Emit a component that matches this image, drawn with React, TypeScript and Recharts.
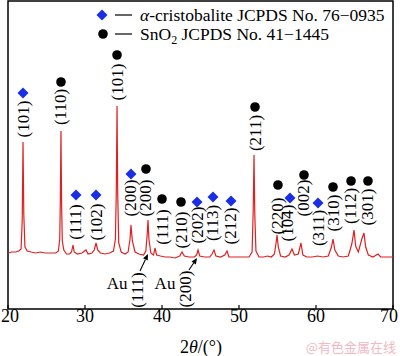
import React from 'react';
import { ComposedChart, Line, XAxis, YAxis, ReferenceArea, ReferenceDot, ReferenceLine } from 'recharts';

// XRD pattern: [2θ (°), intensity (a.u.)]
const xrdPattern: [number, number][] = [
  [20.0, 56], [20.5, 57], [21.0, 57], [21.4, 58], [21.7, 60], [21.85, 90], [21.95, 167], [22.05, 95], [22.2, 62],
  [22.5, 58], [23.0, 57], [23.6, 56], [24.2, 57], [24.8, 56], [25.5, 56], [26.2, 56], [26.55, 58], [26.72, 70],
  [26.8, 110], [26.88, 178], [26.96, 105], [27.05, 68], [27.25, 59], [27.6, 55], [28.0, 55], [28.25, 57], [28.44, 64],
  [28.6, 57], [29.0, 55], [29.6, 56], [30.13, 59], [30.4, 55], [30.9, 56], [31.2, 59], [31.43, 66], [31.65, 59],
  [32.0, 56], [32.6, 55], [33.2, 56], [33.7, 58], [33.95, 70], [34.07, 120], [34.16, 203], [34.25, 115], [34.38, 66],
  [34.7, 57], [35.2, 55], [35.6, 57], [35.85, 70], [35.97, 84], [36.15, 68], [36.5, 57], [37.0, 55], [37.6, 54],
  [37.9, 58], [38.08, 75], [38.18, 89], [38.3, 70], [38.55, 56], [38.9, 54], [39.09, 61], [39.3, 54], [39.8, 53],
  [40.4, 52], [41.0, 52], [41.7, 51], [42.3, 53], [42.6, 57], [42.9, 53], [43.5, 52], [44.2, 52], [44.5, 54],
  [44.68, 59], [44.9, 53], [45.5, 52], [46.2, 52], [46.5, 55], [46.75, 59], [47.0, 53], [47.6, 52], [48.15, 54],
  [48.44, 58], [48.7, 52], [49.3, 52], [50.0, 52], [50.7, 52], [51.3, 52], [51.7, 57], [51.85, 100], [51.95, 154],
  [52.05, 95], [52.2, 58], [52.6, 52], [53.2, 52], [53.7, 53], [54.2, 52], [54.6, 55], [54.85, 68], [54.94, 74],
  [55.1, 62], [55.4, 53], [56.0, 52], [56.5, 54], [56.88, 60], [57.2, 54], [57.7, 55], [58.05, 66], [58.3, 54],
  [58.8, 52], [59.5, 52], [60.2, 53], [60.9, 52], [61.6, 53], [62.0, 62], [62.21, 70], [62.45, 59], [62.9, 53],
  [63.5, 52], [64.2, 53], [64.65, 65], [64.94, 79], [65.15, 63], [65.5, 57], [65.95, 70], [66.23, 76], [66.45, 62],
  [66.8, 54], [67.4, 52], [68.05, 55], [68.4, 52], [69.0, 52], [69.5, 52], [70.0, 52],
];

const xTicks = [20, 30, 40, 50, 60, 70];

// α-cristobalite reflections: [hkl, 2θ of marker, marker height, label height, label 2θ]
const cristobalitePeaks: [string, number, number, number, number][] = [
  ['(101)', 21.95, 216, 190, 21.95],
  ['(111)', 28.83, 114, 87, 28.83],
  ['(102)', 31.43, 114, 87, 31.43],
  ['(200)', 35.97, 135, 111, 35.85],
  ['(202)', 44.55, 107, 84, 44.55],
  ['(113)', 46.62, 112, 86, 46.62],
  ['(212)', 48.96, 108, 83, 48.96],
  ['(104)', 56.62, 111, 86, 56.3],
  ['(311)', 60.26, 106, 81, 60.26],
];

// SnO2 reflections: [hkl, 2θ of marker, marker height, label height, label 2θ]
const sno2Peaks: [string, number, number, number, number][] = [
  ['(110)', 26.88, 227, 202, 26.88],
  ['(101)', 34.16, 254, 227, 34.16],
  ['(200)', 37.92, 140, 111, 37.85],
  ['(111)', 40.0, 110, 82, 40.0],
  ['(210)', 42.47, 107, 79, 42.47],
  ['(211)', 52.08, 202, 176, 52.08],
  ['(220)', 55.06, 124, 93, 54.95],
  ['(002)', 58.44, 134, 111, 58.44],
  ['(310)', 62.21, 122, 96, 62.21],
  ['(112)', 64.55, 128, 103, 64.5],
  ['(301)', 66.75, 128, 102, 66.7],
];

// Au reflections: hkl, arrow tail, arrow head, "Au" text pos, hkl text pos
const auPeaks = [
  { hkl: '(111)', from: [37.14, 38], to: [38.18, 55], au: [34.16, 26], lab: [36.88, 19] },
  { hkl: '(200)', from: [43.5, 39], to: [44.55, 51], au: [40.39, 26], lab: [42.99, 20] },
];

const data = xrdPattern.map(([t, i]) => ({ t, i }));

const SERIF = '"Liberation Serif", "Times New Roman", serif';
const BLUE = '#1a2ee8';
const RED = '#e11f1f';

const Diamond = (p: any) => (
  <polygon
    points={`${p.cx},${p.cy - 5.5} ${p.cx + 5.5},${p.cy} ${p.cx},${p.cy + 5.5} ${p.cx - 5.5},${p.cy}`}
    fill={BLUE}
  />
);
const Circle = (p: any) => <circle cx={p.cx} cy={p.cy} r={4.8} fill="#000" />;

const vLabel = (txt: string) => (p: any) => (
  <text
    x={p.cx}
    y={p.cy}
    transform={`rotate(-90 ${p.cx} ${p.cy})`}
    textAnchor="middle"
    dominantBaseline="central"
    fontFamily={SERIF}
    fontSize={17}
    fill="#000"
  >
    {txt}
  </text>
);

const hLabel = (txt: string) => (p: any) => (
  <text x={p.cx} y={p.cy} textAnchor="middle" dominantBaseline="central" fontFamily={SERIF} fontSize={17} fill="#000">
    {txt}
  </text>
);

const Arrow = (p: any) => {
  const { x1, y1, x2, y2 } = p;
  const dx = x2 - x1;
  const dy = y2 - y1;
  const len = Math.sqrt(dx * dx + dy * dy) || 1;
  const ux = dx / len;
  const uy = dy / len;
  const hl = 6;
  const hw = 2.6;
  const bx = x2 - ux * hl;
  const by = y2 - uy * hl;
  return (
    <g>
      <line x1={x1} y1={y1} x2={bx} y2={by} stroke="#000" strokeWidth={1.1} />
      <polygon
        points={`${x2},${y2} ${bx - uy * hw},${by + ux * hw} ${bx + uy * hw},${by - ux * hw}`}
        fill="#000"
      />
    </g>
  );
};

const Tick = (p: any) => {
  const { x, y, payload } = p;
  const v = payload.value;
  const anchor = v === 20 ? 'start' : v === 70 ? 'end' : 'middle';
  const tx = v === 20 ? x - 7 : v === 70 ? x + 5 : x;
  return (
    <g>
      <line x1={x} x2={x} y1={y} y2={y - 4} stroke="#000" strokeWidth={1.2} />
      <text x={tx} y={y + 13} textAnchor={anchor} fontFamily={SERIF} fontSize={18} fill="#000">
        {v}
      </text>
    </g>
  );
};

export default function App() {
  return (
    <div style={{ position: 'absolute', left: 0, top: 0, width: 400, height: 356, background: '#fff' }}>
      <ComposedChart width={400} height={356} data={data} margin={{ top: 1, right: 7, bottom: 0, left: 8 }}>
        <XAxis
          dataKey="t"
          type="number"
          domain={[20, 70]}
          ticks={xTicks}
          allowDataOverflow
          axisLine={false}
          tickLine={false}
          tickSize={0}
          tickMargin={0}
          height={47}
          tick={<Tick />}
          interval={0}
        />
        <YAxis type="number" domain={[0, 308]} hide allowDataOverflow />
        <Line
          dataKey="i"
          type="linear"
          stroke={RED}
          strokeWidth={1.2}
          dot={false}
          isAnimationActive={false}
        />
        <ReferenceArea x1={20} x2={70} y1={0} y2={308} fill="none" stroke="#000" strokeWidth={1.5} strokeOpacity={1} fillOpacity={0} />
        {cristobalitePeaks.map(([hkl, t, my, ly, lt], k) => (
          <ReferenceDot key={'cm' + k} x={t} y={my} r={5} shape={Diamond} />
        ))}
        {cristobalitePeaks.map(([hkl, t, my, ly, lt], k) => (
          <ReferenceDot key={'cl' + k} x={lt} y={ly} r={1} shape={vLabel(hkl)} />
        ))}
        {sno2Peaks.map(([hkl, t, my, ly, lt], k) => (
          <ReferenceDot key={'sm' + k} x={t} y={my} r={5} shape={Circle} />
        ))}
        {sno2Peaks.map(([hkl, t, my, ly, lt], k) => (
          <ReferenceDot key={'sl' + k} x={lt} y={ly} r={1} shape={vLabel(hkl)} />
        ))}
        {auPeaks.map((a, k) => (
          <ReferenceLine
            key={'aa' + k}
            segment={[{ x: a.from[0], y: a.from[1] }, { x: a.to[0], y: a.to[1] }]}
            shape={Arrow}
          />
        ))}
        {auPeaks.map((a, k) => (
          <ReferenceDot key={'at' + k} x={a.au[0]} y={a.au[1]} r={1} shape={hLabel('Au')} />
        ))}
        {auPeaks.map((a, k) => (
          <ReferenceDot key={'al' + k} x={a.lab[0]} y={a.lab[1]} r={1} shape={vLabel(a.hkl)} />
        ))}
      </ComposedChart>
      <svg width={400} height={356} style={{ position: 'absolute', left: 0, top: 0, pointerEvents: 'none' }}>
        <polygon points="102,9.5 107.5,15 102,20.5 96.5,15" fill={BLUE} />
        <line x1={115} x2={132} y1={15} y2={15} stroke="#000" strokeWidth={1.2} />
        <text x={140} y={21} fontFamily={SERIF} fontSize={17.5} fill="#000">
          <tspan fontStyle="italic">α</tspan>-cristobalite JCPDS No. 76−0935
        </text>
        <circle cx={103} cy={34} r={4.8} fill="#000" />
        <line x1={115} x2={132} y1={34} y2={34} stroke="#000" strokeWidth={1.2} />
        <text x={140} y={40} fontFamily={SERIF} fontSize={17.5} fill="#000">
          SnO<tspan fontSize={12} dy={4}>2</tspan>
          <tspan dy={-4}> JCPDS No. 41−1445</tspan>
        </text>
        <text x={201} y={353} textAnchor="middle" fontFamily={SERIF} fontSize={18} fill="#000">
          2<tspan fontStyle="italic">θ</tspan>/(°)
        </text>
        <text x={396} y={352} textAnchor="end" fontFamily='"Noto Sans CJK SC", sans-serif' fontSize={13} fill="#f3b9c2">
          @有色金属在线
        </text>
      </svg>
    </div>
  );
}
